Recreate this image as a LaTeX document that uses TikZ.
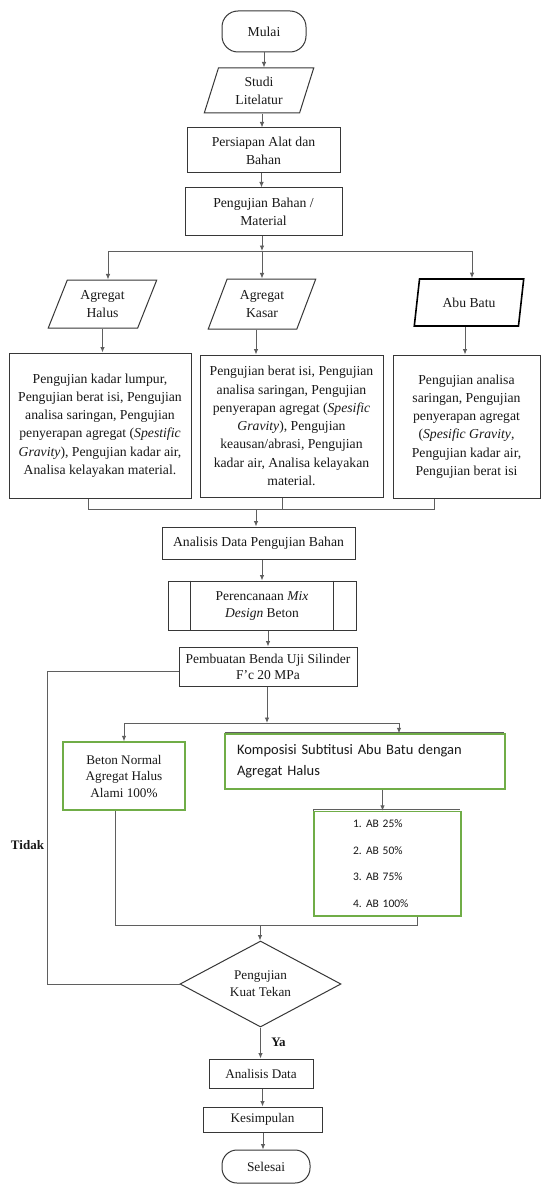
\documentclass[tikz,border=0pt]{standalone}
\usepackage{fontspec}
\setmainfont{Liberation Serif}
\newfontfamily\calibri{Carlito}
\usetikzlibrary{shapes.geometric,arrows.meta}
\definecolor{boxc}{RGB}{55,55,55}
\definecolor{linec}{RGB}{95,95,95}
\definecolor{grn}{RGB}{112,173,71}
\begin{document}
\begin{tikzpicture}[x=1pt,y=-1pt,
  base/.style={font=\fontsize{13.7}{18.3}\selectfont, align=center, inner sep=1pt, text=black!90},
  box/.style={base, rectangle, draw=boxc, line width=1pt},
  term/.style={box, rounded corners=16pt},
  io/.style={base, trapezium, trapezium stretches=true, draw=boxc, line width=1pt},
  gbox/.style={base, rectangle, draw=grn, line width=1.3pt},
  conn/.style={draw=linec, line width=0.9pt},
  arr/.style={conn, -{Latex[length=5.5pt,width=4.5pt]}},
  lbl/.style={font=\fontsize{13}{15}\selectfont\bfseries, inner sep=0pt, text=black!90},
]
\fill[white] (0,0) rectangle (541,1185);
\useasboundingbox (0,0) rectangle (541,1185);

% nodes
\node[term, minimum width=84, minimum height=41] (mulai) at (264,31.5) {Mulai};
\node[io, trapezium left angle=74, trapezium right angle=106, minimum width=110, minimum height=45] (studi) at (259,90.5) {Studi\\Litelatur};
\node[box, minimum width=153, minimum height=45] (alat) at (263.5,150.5) {Persiapan Alat dan\\Bahan};
\node[box, minimum width=157, minimum height=47] (bahan) at (263.5,211.5) {Pengujian Bahan /\\Material};
\node[io, trapezium left angle=67, trapezium right angle=113, minimum width=109, minimum height=48] (halus) at (102.5,304) {Agregat\\Halus};
\node[io, trapezium left angle=67, trapezium right angle=113, minimum width=108, minimum height=50] (kasar) at (262,304) {Agregat\\Kasar};
\node[io, trapezium left angle=76, trapezium right angle=104, minimum width=110, minimum height=47, draw=black, line width=1.6pt] (abu) at (469,302.5) {Abu Batu};

\node[box, minimum width=182, minimum height=145] (b1) at (100,425.5) {Pengujian kadar lumpur,\\Pengujian berat isi, Pengujian\\analisa saringan, Pengujian\\penyerapan agregat (\textit{Spestific}\\\textit{Gravity}), Pengujian kadar air,\\Analisa kelayakan material.};
\node[box, minimum width=183, minimum height=142] (b2) at (291.5,426) {Pengujian berat isi, Pengujian\\analisa saringan, Pengujian\\penyerapan agregat (\textit{Spesific}\\\textit{Gravity}), Pengujian\\keausan/abrasi, Pengujian\\kadar air, Analisa kelayakan\\material.};
\node[box, minimum width=147, minimum height=143] (b3) at (466.5,426.5) {Pengujian analisa\\saringan, Pengujian\\penyerapan agregat\\(\textit{Spesific Gravity},\\Pengujian kadar air,\\Pengujian berat isi};

\node[box, minimum width=193, minimum height=32] (ana1) at (258.5,543) {Analisis Data Pengujian Bahan};
\node[box, minimum width=188, minimum height=49, font=\fontsize{13.5}{17}\selectfont] (mix) at (262,605.5) {Perencanaan \textit{Mix}\\\textit{Design} Beton};
\draw[boxc, line width=1pt] ([xshift=23]mix.north west) -- ([xshift=23]mix.south west)
  ([xshift=-23]mix.north east) -- ([xshift=-23]mix.south east);
\node[box, minimum width=178, minimum height=39, font=\fontsize{13.5}{16}\selectfont] (uji) at (268,666.5) {Pembuatan Benda Uji Silinder\\F’c 20 MPa};

\node[gbox, minimum width=122, minimum height=68, font=\fontsize{13.2}{16.5}\selectfont] (beton) at (124,776) {Beton Normal\\Agregat Halus\\Alami 100\%};
\draw[linec, line width=1pt] (224.5,732.5) -- (504,732.5);
\node[gbox, minimum width=280, minimum height=55, text width=256, align=left, inner sep=0pt, font=\calibri\fontsize{14.5}{21}\selectfont] (komp) at (365,761.5) {Komposisi Subtitusi Abu Batu dengan\\Agregat Halus};
\draw[linec, line width=1pt] (313,908) -- (313,809) -- (460,809);
\node[gbox, minimum width=147, minimum height=104.5, text width=69, align=left, inner sep=0pt, font=\calibri\fontsize{11.5}{26.7}\selectfont] (list) at (387.5,863.75) {\makebox[13pt][l]{1.}AB 25\%\\\makebox[13pt][l]{2.}AB 50\%\\\makebox[13pt][l]{3.}AB 75\%\\\makebox[13pt][l]{4.}AB 100\%};

\node[base, diamond, aspect=1.9, draw=boxc, line width=1pt, minimum width=161, minimum height=86, inner sep=0pt, font=\fontsize{13.2}{17}\selectfont] (dia) at (260.5,984) {Pengujian\\Kuat Tekan};
\node[box, minimum width=104, minimum height=29, font=\fontsize{13.2}{16}\selectfont] (anad) at (261,1073.5) {Analisis Data};
\node[box, minimum width=119, minimum height=25, font=\fontsize{13.2}{16}\selectfont] (kes) at (262.5,1119.5) {Kesimpulan};
\node[term, minimum width=88, minimum height=33, rounded corners=15pt, font=\fontsize{13.4}{16}\selectfont] (sel) at (266,1166.5) {Selesai};

\node[lbl] (ya) at (278.5,1042) {Ya};
\node[lbl] (tidak) at (27.5,845) {Tidak};

% connectors
\draw[arr] (mulai.south) -- (mulai.south |- studi.north);
\draw[arr] ([xshift=3]studi.south) -- ([xshift=3]studi.south |- alat.north);
\draw[arr] ([xshift=-2]alat.south) -- ([xshift=-2]alat.south |- bahan.north);
\coordinate (j1) at (262,251);
\draw[arr] (bahan.south -| j1) -- (j1);
\draw[arr] (j1) -| ([xshift=5.5]halus.north);
\draw[arr] (j1) -- (j1 |- kasar.north);
\draw[arr] (j1) -| ([xshift=3]abu.north);
\draw[arr] (halus.south) -- (halus.south |- b1.north);
\draw[arr] ([xshift=-6]kasar.south) -- ([xshift=-6]kasar.south |- b2.north);
\draw[arr] ([xshift=-4]abu.south) -- ([xshift=-4]abu.south |- b3.north);

\coordinate (j2) at (256,509);
\draw[conn] ([xshift=-12]b1.south) |- (j2);
\draw[conn] ([xshift=-9.5]b2.south) |- (j2);
\draw[conn] ([xshift=-32.5]b3.south) |- (j2);
\draw[arr] (j2) -- (j2 |- ana1.north);
\draw[arr] (mix.north |- ana1.south) -- (mix.north);
\draw[arr] (uji.north |- mix.south) -- (uji.north);

\coordinate (j3) at (267,723);
\draw[arr] (uji.south -| j3) -- (j3);
\draw[arr] (j3) -| (beton.north);
\draw[arr] (j3) -| ([xshift=34]komp.north);
\draw[arr] ([xshift=-5]list.north |- komp.south) -- ([xshift=-5]list.north);

\coordinate (j4) at (260,925);
\draw[conn] ([xshift=-9]beton.south) |- (j4);
\draw[conn] ([xshift=29.5]list.south) |- (j4);
\draw[arr] (j4) -- (j4 |- dia.north);
\draw[arr] (dia.south) -- (dia.south |- anad.north);

\coordinate (tl) at (47,671);
\draw[conn] (dia.west) -| (tl) -- (tl -| uji.west);

\draw[arr] (anad.south -| kes.north) -- (kes.north);
\draw[arr] ([xshift=-3]sel.north |- kes.south) -- ([xshift=-3]sel.north);
\end{tikzpicture}
\end{document}
